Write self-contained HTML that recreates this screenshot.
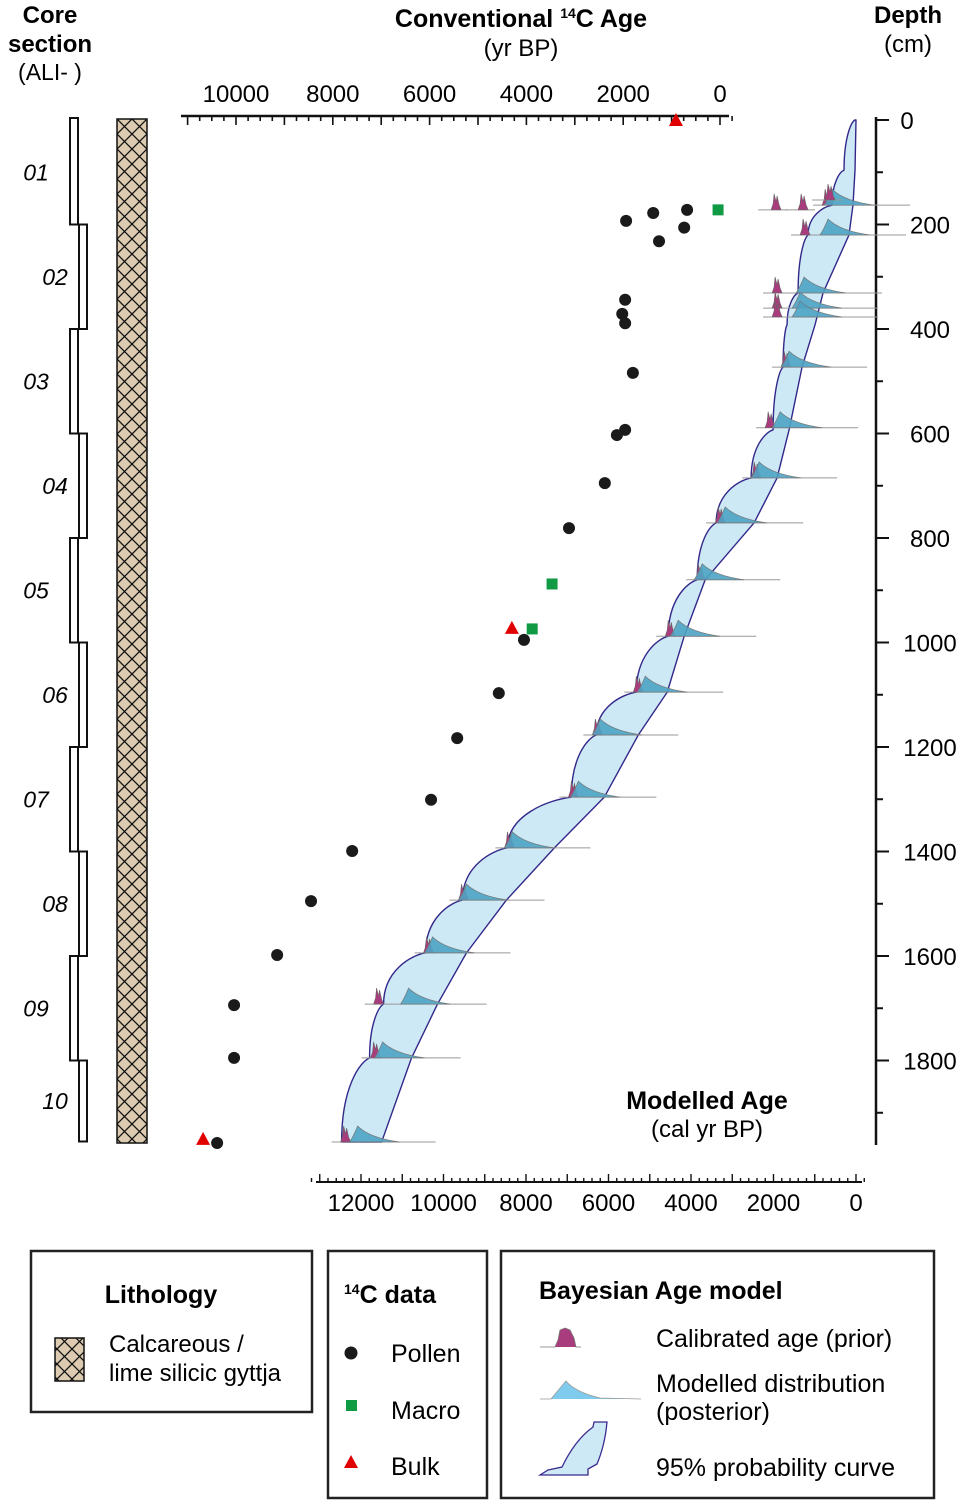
<!DOCTYPE html>
<html><head><meta charset="utf-8"><style>
html,body{margin:0;padding:0;background:#fff;}
svg{display:block;font-family:"Liberation Sans",Arial,sans-serif;}
</style></head><body>
<svg id="chart" width="962" height="1506" viewBox="0 0 962 1506" xmlns="http://www.w3.org/2000/svg">
<defs>
<pattern id="hatch" patternUnits="userSpaceOnUse" width="15" height="15" x="117" y="119">
<rect width="15" height="15" fill="#dccbb0"/>
<path d="M0,0 L15,15 M15,0 L0,15" stroke="#111" stroke-width="1.3"/>
</pattern>
</defs>
<g id="static">
<text x="50" y="23" font-size="24" font-weight="bold" text-anchor="middle">Core</text>
<text x="50" y="52" font-size="24" font-weight="bold" text-anchor="middle">section</text>
<text x="50" y="80" font-size="23" text-anchor="middle">(ALI- )</text>
<text x="521" y="27" font-size="25" font-weight="bold" text-anchor="middle">Conventional <tspan font-size="14" dy="-9">14</tspan><tspan dy="9">C Age</tspan></text>
<text x="521" y="56" font-size="24" text-anchor="middle">(yr BP)</text>
<text x="908" y="23" font-size="24" font-weight="bold" text-anchor="middle">Depth</text>
<text x="908" y="52" font-size="24" text-anchor="middle">(cm)</text>
<text x="707" y="1109" font-size="25" font-weight="bold" text-anchor="middle">Modelled Age</text>
<text x="707" y="1137" font-size="24" text-anchor="middle">(cal yr BP)</text>
<rect x="117" y="119" width="30" height="1024" fill="url(#hatch)" stroke="#111" stroke-width="1.5"/>

<rect x="31" y="1251" width="281" height="161" fill="none" stroke="#222" stroke-width="2.5"/>
<text x="161" y="1303" font-size="25" font-weight="bold" text-anchor="middle">Lithology</text>
<rect x="55" y="1338" width="29" height="43" fill="url(#hatch)" stroke="#111" stroke-width="1.5"/>
<text x="109" y="1352" font-size="24">Calcareous /</text>
<text x="109" y="1381" font-size="24">lime silicic gyttja</text>

<rect x="328" y="1251" width="159" height="247" fill="none" stroke="#222" stroke-width="2.5"/>
<text x="344" y="1303" font-size="25" font-weight="bold"><tspan font-size="14" dy="-9">14</tspan><tspan dy="9">C data</tspan></text>
<circle cx="351" cy="1353" r="6.5" fill="#1a1a1a"/>
<text x="391" y="1362" font-size="25">Pollen</text>
<rect x="346" y="1400" width="11" height="11" fill="#119a44"/>
<text x="391" y="1419" font-size="25">Macro</text>
<polygon points="351,1455 344,1468 358,1468" fill="#e10000"/>
<text x="391" y="1475" font-size="25">Bulk</text>

<rect x="501" y="1251" width="433" height="247" fill="none" stroke="#222" stroke-width="2.5"/>
<text x="539" y="1299" font-size="25" font-weight="bold">Bayesian Age model</text>
<path d="M540,1347 L555,1347 L558,1340 L560,1330 L565,1328 L570,1330 L574,1338 L576,1347 L581,1347" fill="#a83c7c" stroke="#777" stroke-width="0.8"/>
<text x="656" y="1347" font-size="25">Calibrated age (prior)</text>
<path d="M540,1399 L551,1399 Q560,1388 566,1381 Q575,1392 600,1398 L641,1399" fill="#7ecbee" stroke="#999" stroke-width="0.8"/>
<text x="656" y="1392" font-size="25">Modelled distribution</text>
<text x="656" y="1420" font-size="25">(posterior)</text>
<path d="M540,1475 L548,1470 L562,1467 Q575,1440 593,1427 L594,1422 L607,1422 Q605,1445 597,1464 L588,1469 L588,1475 Z" fill="#cde9f5" stroke="#3a2a8e" stroke-width="1.3"/>
<text x="656" y="1476" font-size="25">95% probability curve</text>
</g>
<g id="dyn"></g>
</svg>
<script>
// Core sections
const sectionLabels = ["01","02","03","04","05","06","07","08","09","10"];
const sectionTops = [0, 200, 400, 600, 800, 1000, 1200, 1400, 1600, 1800];
const sectionBottoms = [200, 400, 600, 800, 1000, 1200, 1400, 1600, 1800, 1955];
// Conventional 14C ages (yr BP) and depths (cm)
const pollenAge = [1940,1380,680,740,1260,1960,2020,1960,1800,1960,2130,2380,3120,4050,4570,5430,5970,7600,8450,9150,10040,10040,10390];
const pollenDepth = [193,178,172,206,232,344,371,389,484,593,603,695,781,995,1097,1183,1301,1399,1495,1598,1694,1795,1958];
const macroAge = [40,3470,3880];
const macroDepth = [172,888,974];
const bulkAge = [910,4300,10680];
const bulkDepth = [0,972,1950];
// 95% band (cal yr BP)
const bandDepth = [0,96,163,220,331,392,473,593,685,771,880,988,1095,1177,1296,1393,1493,1594,1692,1795,1956];
const bandOld = [30,290,581,1162,1404,1671,1768,2010,2542,3390,3850,4552,5327,6295,6901,8450,9540,10436,11453,11792,12470];
const bandYoung = [0,24,73,170,799,993,1308,1622,1913,2470,3656,4165,4576,5278,6102,7312,8475,9443,10145,10775,11501];
// distributions
const distDepth = [163,220,331,360,377,473,589,685,771,880,988,1095,1177,1296,1393,1493,1594,1692,1795,1956];
const postAge = [580,678,1259,1356,1356,1622,1840,2349,3172,3729,4310,5109,6199,6731,8329,9443,10266,10847,11477,12082];
const priorAge = [700,1235,1913,1913,1913,1695,2082,2421,3293,3777,4504,5278,6271,6852,8402,9516,10363,11574,11646,12373];
const outlierPriorAge = [1937,1283,630];
const outlierPriorDepth = [172,172,153];
// ticks
const topTickLabels = [10000,8000,6000,4000,2000,0];
const depthTickLabels = [0,200,400,600,800,1000,1200,1400,1600,1800];
const bottomTickLabels = [12000,10000,8000,6000,4000,2000,0];

const NS="http://www.w3.org/2000/svg";
const g=document.getElementById('dyn');
const xTop=a=>720-a*0.0484;
const xBot=a=>856-a*0.04125;
const yD=d=>120+d*0.5225;
function mk(tag,attrs,parent){const e=document.createElementNS(NS,tag);for(const k in attrs)e.setAttribute(k,attrs[k]);(parent||g).appendChild(e);return e;}

// core sections
sectionLabels.forEach((lab,i)=>{
  const x0 = i%2===0?70:79;
  const r=mk('rect',{x:x0,y:yD(sectionTops[i])-(i===0?2:0),width:8,height:yD(sectionBottoms[i])-yD(sectionTops[i])+(i===0?2:0),fill:'#fff',stroke:'#111','stroke-width':2});
  
  
  const t=mk('text',{x:i%2===0?36:55,y:(yD(sectionTops[i])+yD(sectionBottoms[i]))/2+8,'font-size':23,'font-style':'italic','text-anchor':'middle'});
  t.textContent=lab;
  
  
});

// top axis
let ax=mk('line',{x1:181,y1:116,x2:729,y2:116,stroke:'#111','stroke-width':2.5});


for(let a=-250;a<=11000;a+=250){
  const major=a%1000===0;
  mk('line',{x1:xTop(a),y1:116,x2:xTop(a),y2:116+(major?9:5),stroke:'#111','stroke-width':1.6});
}
topTickLabels.forEach(v=>{
  const t=mk('text',{x:xTop(v),y:102,'font-size':24,'text-anchor':'middle'});
  t.textContent=v;
  
  
});

// depth axis
ax=mk('line',{x1:876,y1:117,x2:876,y2:1145,stroke:'#111','stroke-width':2.5});


for(let d=0;d<=1900;d+=100){
  const major=d%200===0;
  mk('line',{x1:876,y1:yD(d),x2:876+(major?13:7),y2:yD(d),stroke:'#111','stroke-width':2});
}
depthTickLabels.forEach(v=>{
  const t=mk('text',{x:v===0?907:930,y:yD(v)+9,'font-size':24,'text-anchor':'middle'});
  t.textContent=v;
  
  
});

// bottom axis
ax=mk('line',{x1:316,y1:1182,x2:862,y2:1182,stroke:'#111','stroke-width':2});


for(let a=-200;a<=13200;a+=200){
  const major=a%1000===0;
  mk('line',{x1:xBot(a),y1:1182,x2:xBot(a),y2:1182-(major?8:4),stroke:'#111','stroke-width':1.4});
}
bottomTickLabels.forEach(v=>{
  const t=mk('text',{x:xBot(v),y:1211,'font-size':24,'text-anchor':'middle'});
  t.textContent=v;
  
  
});

// band: left edge bulges toward next value, right edge straight
let dPath='M'+xBot(bandYoung[0])+','+yD(bandDepth[0]);
dPath+=' L'+xBot(bandOld[0])+','+yD(bandDepth[0]);
for(let i=1;i<bandDepth.length;i++){
  const y0=yD(bandDepth[i-1]),y1=yD(bandDepth[i]);
  const x0=xBot(bandOld[i-1]),x1=xBot(bandOld[i]);
  dPath+=` C${x0+(x1-x0)*0.35},${y0+(y1-y0)*0.05} ${x1},${y0+(y1-y0)*0.35} ${x1},${y1}`;
}
for(let i=bandDepth.length-1;i>=0;i--){
  dPath+=` L${xBot(bandYoung[i])},${yD(bandDepth[i])}`;
}
dPath+=' Z';
const band=mk('path',{d:dPath,fill:'#cde9f5',stroke:'#33288a','stroke-width':1.4,'stroke-linejoin':'round'});



// distributions
function prior(a,d){
  const x=xBot(a),y=yD(d);
  const p=mk('path',{d:`M${x-5},${y} L${x-3},${y-6} L${x-2},${y-16} L${x},${y-8} L${x+1},${y-14} L${x+3},${y-5} L${x+5},${y}Z`,fill:'#a83c7c',stroke:'#666','stroke-width':0.6});
  
  
}
distDepth.forEach((d,i)=>{
  const y=yD(d),xp=xBot(postAge[i]);
  const bl=mk('line',{x1:Math.min(xp,xBot(priorAge[i]))-14,y1:y,x2:xp+78,y2:y,stroke:'#999','stroke-width':1});
  
  
  prior(priorAge[i],d);
  const h=mk('path',{d:`M${xp-8},${y} Q${xp-4},${y-6} ${xp},${y-16} Q${xp+12},${y-4} ${xp+42},${y} Z`,fill:'#4ea3c4','fill-opacity':0.9,stroke:'#777','stroke-width':0.7});
  
  
});
outlierPriorAge.forEach((a,i)=>{
  const y=yD(outlierPriorDepth[i]);
  mk('line',{x1:xBot(a)-18,y1:y,x2:xBot(a)+12,y2:y,stroke:'#999','stroke-width':1});
  prior(a,outlierPriorDepth[i]);
});

// data points
pollenAge.forEach((a,i)=>{
  const c=mk('circle',{cx:xTop(a),cy:yD(pollenDepth[i]),r:6,fill:'#1a1a1a'});
  
  
});
macroAge.forEach((a,i)=>{
  const x=xTop(a),y=yD(macroDepth[i]);
  const r=mk('rect',{x:x-5.5,y:y-5.5,width:11,height:11,fill:'#119a44'});
  
  
});
bulkAge.forEach((a,i)=>{
  const x=xTop(a),y=yD(bulkDepth[i]);
  const p=mk('polygon',{points:`${x},${y-7} ${x-7},${y+6} ${x+7},${y+6}`,fill:'#e10000'});
  
  
});
</script>
</body></html>
